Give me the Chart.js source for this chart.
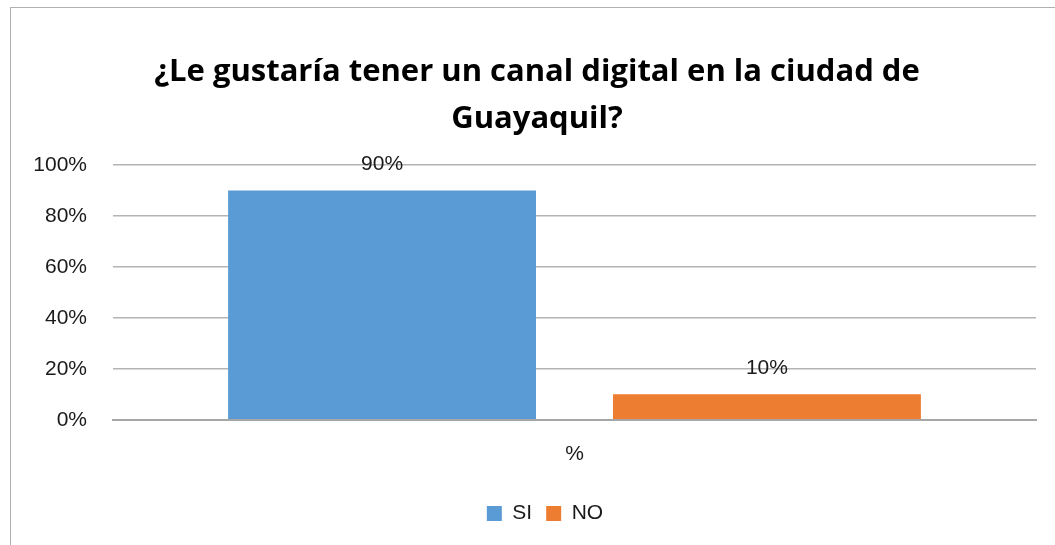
<!DOCTYPE html>
<html lang="es">
<head>
  <meta charset="UTF-8" />
  <title>Canal digital Guayaquil</title>
  <script src="https://cdn.jsdelivr.net/npm/chart.js"></script>
  <style>
    html, body { margin: 0; padding: 0; background: #fff; overflow: hidden; }
    #frame { position: absolute; left: 10px; top: 7px; width: 1100px; height: 600px; border: 1.5px solid #b0b0b0; }
    #wrap { position: absolute; left: 0; top: 0; width: 1055px; height: 545px; }
  </style>
</head>
<body>
  <div id="frame"></div>
  <div id="wrap"><canvas id="chart"></canvas></div>

  <script>
    const categories = ["%"];
    const seriesNames = ["SI", "NO"];
    const siValues = [0.90];
    const noValues = [0.10];
    const seriesColors = ["#5b9bd5", "#ed7d31"];
    const titleLines = ["¿Le gustaría tener un canal digital en la ciudad de", "Guayaquil?"];

    const pct = v => Math.round(v * 100) + "%";
    const FONT = "'Liberation Sans', Arial, sans-serif";

    // draws the value above each bar (like Excel's data labels)
    const barLabels = {
      id: "barLabels",
      afterDatasetsDraw(chart) {
        const ctx = chart.ctx;
        ctx.save();
        ctx.font = "21px " + FONT;
        ctx.fillStyle = "#1a1a1a";
        ctx.textAlign = "center";
        ctx.textBaseline = "middle";
        chart.data.datasets.forEach((ds, i) => {
          chart.getDatasetMeta(i).data.forEach((bar, j) => {
            ctx.fillText(pct(ds.data[j]), bar.x, bar.y - 26);
          });
        });
        ctx.restore();
      }
    };

    // the Excel frame runs past the right edge, so title and legend sit a bit right of centre
    const boxShift = {
      id: "boxShift",
      afterLayout(chart) {
        chart.titleBlock.left += 19;
        chart.titleBlock.right += 19;
        chart.legend.left += 27;
        chart.legend.right += 27;
      }
    };

    new Chart(document.getElementById("chart"), {
      type: "bar",
      data: {
        labels: categories,
        datasets: [
          { label: seriesNames[0], data: siValues, backgroundColor: seriesColors[0] },
          { label: seriesNames[1], data: noValues, backgroundColor: seriesColors[1] }
        ]
      },
      options: {
        responsive: true,
        maintainAspectRatio: false,
        animation: false,
        categoryPercentage: 0.834,
        barPercentage: 0.8,
        layout: { padding: { left: 0, right: 19, top: 0, bottom: 11 } },
        plugins: {
          title: {
            display: true,
            text: titleLines,
            color: "#000",
            font: { family: "'Open Sans', sans-serif", size: 31, weight: "bold", lineHeight: 1.5 },
            padding: { top: 49, bottom: 23 }
          },
          legend: {
            position: "bottom",
            labels: {
              boxWidth: 15, boxHeight: 15, padding: 14,
              color: "#1a1a1a",
              font: { family: FONT, size: 21 }
            }
          },
          tooltip: { enabled: false }
        },
        scales: {
          x: {
            grid: { display: false, drawTicks: false },
            border: { display: true, color: "#a6a6a6", width: 2 },
            ticks: { padding: 22, color: "#1a1a1a", font: { family: FONT, size: 21 } }
          },
          y: {
            min: 0, max: 1,
            afterFit(scale) { scale.width = 113; },
            grid: { color: "#b4b4b4", lineWidth: 1.5, drawTicks: false },
            border: { display: false },
            ticks: {
              stepSize: 0.2, padding: 26, color: "#1a1a1a",
              font: { family: FONT, size: 21 },
              callback: v => pct(v)
            }
          }
        }
      },
      plugins: [barLabels, boxShift]
    });
  </script>
</body>
</html>
